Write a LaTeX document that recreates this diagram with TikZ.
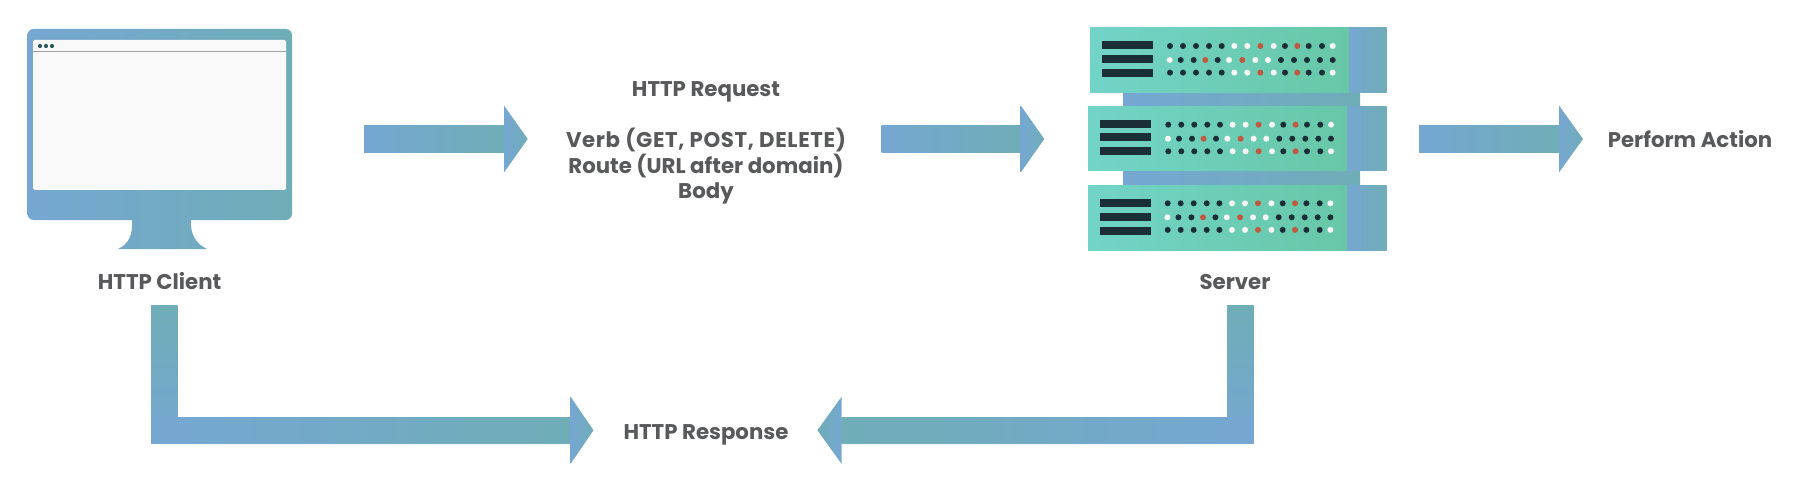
\documentclass[tikz,border=0pt]{standalone}
\usepackage{fontspec}
\setmainfont{Poppins}
\usetikzlibrary{calc}
\definecolor{ablue}{HTML}{76A7D2}
\definecolor{ateal}{HTML}{6FADB7}
\definecolor{rackl}{HTML}{72D4C7}
\definecolor{rackr}{HTML}{68C7A7}
\definecolor{barc}{HTML}{1A2E35}
\definecolor{redc}{HTML}{C0593F}
\definecolor{whitec}{HTML}{F8F8F8}
\definecolor{screenc}{HTML}{F9F9F9}
\definecolor{linec}{HTML}{A0A3A5}
\definecolor{tdot}{HTML}{2A5A5E}
\definecolor{textc}{HTML}{58595B}
\tikzset{
  lbl/.style={font=\fontsize{21.3}{26}\selectfont\bfseries, text=textc, align=center, inner sep=0pt, anchor=base},
  fwd/.style={left color=ablue, right color=ateal},
  bwd/.style={left color=ateal, right color=ablue},
  rackface/.style={left color=rackl, right color=rackr},
  bar/.style={fill=barc},
}
\newcommand{\rightarrowblock}[3]{%
  \shade[fwd] ($(#1)+(0,-13.4)$) rectangle ($(#2)+(0,13.4)$);
  \shade[fwd] ($(#2)+(0,-33.5)$) -- (#3) -- ($(#2)+(0,33.5)$) -- cycle;}
\newcommand{\rackdots}{%
  \foreach \x/\c in {1170/barc,1183/barc,1196/barc,1209/barc,1221.7/barc,1234.3/whitec,1247.3/whitec,1260.3/redc,1273.7/whitec,1285/barc,1297.3/redc,1308.7/barc,1322/barc,1332.7/whitec}{
    \fill[\c] (\x,46) circle (3);
    \fill[\c] (\x,72.6) circle (3);}
  \foreach \x/\c in {1169.7/whitec,1180.7/barc,1193.7/barc,1205.3/redc,1217.7/barc,1229/whitec,1242.3/redc,1255.3/whitec,1268/whitec,1281/barc,1294/barc,1307/barc,1320/barc,1332.7/barc}{
    \fill[\c] (\x,60) circle (3);}
}
\newcommand{\rackbars}[2]{%
  \foreach \y in {0,13.4,27.4}{
    \fill[bar] (#1,#2+\y) rectangle (#1+51,#2+\y+8);}}
\begin{document}
\begin{tikzpicture}[x=1pt,y=-1pt]
\useasboundingbox (0,0) rectangle (1800,492);
% monitor
\shade[fwd] (33.5,29) -- (286,29) .. controls (289.3,29) and (292,31.7) .. (292,35) -- (292,214)
  .. controls (292,217.3) and (289.3,220) .. (286,220)
  -- (191,220) .. controls (190,234) and (196,244) .. (207,249) -- (118,249) .. controls (129,244) and (133,234) .. (132,220)
  -- (33.5,220) .. controls (30.2,220) and (27.5,217.3) .. (27.5,214) -- (27.5,35)
  .. controls (27.5,31.7) and (30.2,29) .. (33.5,29) -- cycle;
\fill[screenc, rounded corners=1.5] (33,40) rectangle (286,190);
\draw[linec, line width=1.4] (33,51.7) -- (286,51.7);
\foreach \x in {40,46,52}{\fill[tdot] (\x,46) circle (2.1);}
% server back connectors
\shade[fwd] (1123,92.7) rectangle (1360,106.7);
\shade[fwd] (1123,171) rectangle (1360,185.7);
% rack 1
\shade[fwd] (1349,28) rectangle (1386.7,92.7);
\shade[rackface] (1090,28) rectangle (1349,92.7);
\rackbars{1101.7}{41.3}
\rackdots
% rack 2
\shade[fwd] (1347,106.7) rectangle (1386.7,171);
\shade[rackface] (1088,106.7) rectangle (1347,171);
\rackbars{1099.7}{120}
\begin{scope}[shift={(-1.7,78.7)}]\rackdots\end{scope}
% rack 3
\shade[fwd] (1347,185.7) rectangle (1386.7,250);
\shade[rackface] (1088,185.7) rectangle (1347,250);
\rackbars{1099.7}{199.3}
\begin{scope}[shift={(-2.3,157.3)}]\rackdots\end{scope}
% labels
\node[lbl] (client) at (159.6,289) {HTTP Client};
\node[lbl] (server) at (1235,289) {Server};
\node[lbl] (req1) at (706,97) {HTTP Request};
\node[lbl] (req2) at (706,147.3) {\addfontfeature{LetterSpace=3}Verb (GET, POST, DELETE)};
\node[lbl] (req3) at (706,173.5) {Route (URL after domain)};
\node[lbl] (req4) at (706,198.8) {Body};
\node[lbl] (action) at (1690,147.3) {Perform Action};
\node[lbl] (response) at (706,439) {HTTP Response};
% arrows
\coordinate (a1s) at (364,139); \coordinate (a1b) at (504,139); \coordinate (a1t) at (527.7,139);
\coordinate (a2s) at (881.7,139); \coordinate (a2b) at (1020.7,139); \coordinate (a2t) at (1044.3,139);
\coordinate (a3s) at (1419,139); \coordinate (a3b) at (1559,139); \coordinate (a3t) at (1583,139);
\rightarrowblock{a1s}{a1b}{a1t}
\rightarrowblock{a2s}{a2b}{a2t}
\rightarrowblock{a3s}{a3b}{a3t}
% client to response
\coordinate (b1s) at (164.3,305.5); \coordinate (b1c) at (164.3,430.3); \coordinate (b1b) at (570.6,430.3); \coordinate (b1t) at (593.5,430.3);
\shade[top color=ateal, bottom color=ablue] ($(b1s)+(-13.3,0)$) rectangle ($(b1c)+(13.3,13.3)$);
\shade[fwd] ($(b1c)+(-13.3,-13.3)$) rectangle ($(b1b)+(0,13.3)$);
\shade[fwd] ($(b1b)+(0,-33.5)$) -- (b1t) -- ($(b1b)+(0,33.5)$) -- cycle;
% server to response
\coordinate (b2s) at (1240.3,305.5); \coordinate (b2c) at (1240.3,430.3); \coordinate (b2b) at (841.5,430.3); \coordinate (b2t) at (817.4,430.3);
\shade[top color=ateal, bottom color=ablue] ($(b2s)+(-13.3,0)$) rectangle ($(b2c)+(13.3,13.3)$);
\shade[bwd] ($(b2b)+(0,-13.3)$) rectangle ($(b2c)+(13.3,13.3)$);
\shade[bwd] ($(b2b)+(0,-33.5)$) -- (b2t) -- ($(b2b)+(0,33.5)$) -- cycle;
\end{tikzpicture}
\end{document}
